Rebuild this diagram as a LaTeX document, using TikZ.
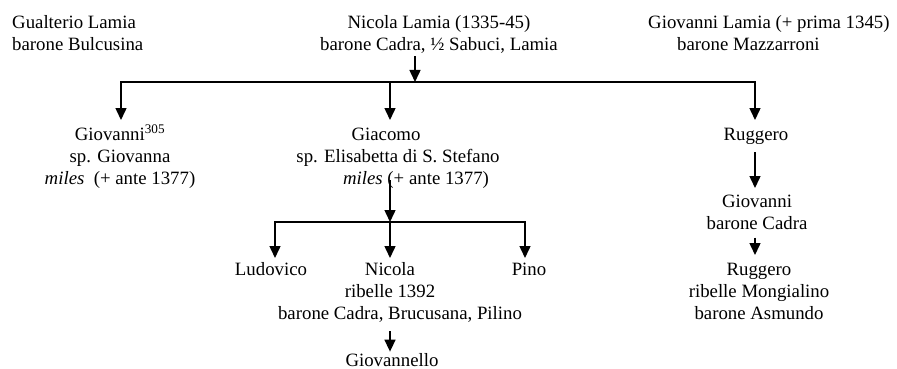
\documentclass[tikz,border=0pt]{standalone}
\usepackage{fontspec}
\setmainfont{Liberation Serif}
\usetikzlibrary{arrows.meta}
\begin{document}
\begin{tikzpicture}[x=1pt,y=-1pt,
  person/.style={anchor=north,align=center,inner sep=0pt,font=\fontsize{18.8}{22}\selectfont},
  conn/.style={line width=1.5pt},
  bus/.style={conn,line cap=rect},
  arr/.style={conn,-{Triangle[width=11pt,length=12pt]}}]
\useasboundingbox (0,0) rectangle (897,369);
% people
\node[person,anchor=north west,align=left] (gual) at (12,12.6) {\strut Gualterio Lamia\\barone Bulcusina};
\node[person] (nic) at (439,12.6) {\strut Nicola Lamia (1335-45)\\barone Cadra, ½ Sabuci, Lamia};
\node[person,anchor=north west,align=left] (glam) at (648,12.6) {\strut Giovanni Lamia (+ prima 1345)\\\hspace*{29pt}barone Mazzarroni};
\node[person] (giov) at (120,124.6) {\strut Giovanni\textsuperscript{305}\\sp. Giovanna\\\textit{miles}\ \ (+ ante 1377)};
\node[person] (giac) at (390,124.6) {\strut Giacomo\hspace*{8pt}\\\hspace*{16pt}sp. Elisabetta di S. Stefano\\\hspace*{52pt}\textit{miles} (+ ante 1377)};
\node[person] (rug1) at (756,124.6) {\strut Ruggero};
\node[person] (giovc) at (757,191.6) {\strut Giovanni\\barone Cadra};
\node[person] (rug2) at (759,259.6) {\strut Ruggero\\ribelle Mongialino\\barone Asmundo};
\node[person] (lud) at (271,259.6) {\strut Ludovico};
\node[person] (nic2) at (390,259.6) {\strut Nicola\\ribelle 1392\hspace*{8pt}\\\hspace*{20pt}barone Cadra, Brucusana, Pilino};
\node[person] (pino) at (529,259.6) {\strut Pino};
\node[person] (gnello) at (392,350.6) {\strut Giovannello};
% junctions
\coordinate (j0) at (415,82);
\coordinate (jL) at (121,82);
\coordinate (jM) at (390,82);
\coordinate (jR) at (755,82);
\coordinate (kL) at (275,222);
\coordinate (kM) at (390,222);
\coordinate (kR) at (525,222);
% connectors
\draw[arr,shorten <=3pt] (nic.south -| j0) -- (j0);
\draw[bus] (jL) -- (jR);
\draw[arr,shorten >=4.6pt] (jL) -- (giov.north -| jL);
\draw[arr,shorten >=4.6pt] (jM) -- (giac.north -| jM);
\draw[arr,shorten >=4.6pt] (jR) -- (rug1.north -| jR);
\draw[arr,shorten <=-8pt] (giac.south -| kM) -- (kM);
\draw[bus] (kL) -- (kR);
\draw[arr,shorten >=1.6pt] (kL) -- (lud.north -| kL);
\draw[arr,shorten >=1.6pt] (kM) -- (nic2.north -| kM);
\draw[arr,shorten >=1.6pt] (kR) -- (pino.north -| kR);
\draw[arr,shorten <=9pt,shorten >=-1pt] (nic2.south -| kM) -- (gnello.north -| kM);
\draw[arr,shorten <=5.4pt,shorten >=3.6pt] (rug1.south -| jR) -- (giovc.north -| jR);
\draw[arr,shorten <=8pt,shorten >=4.6pt] (giovc.south -| jR) -- (rug2.north -| jR);
\end{tikzpicture}
\end{document}
